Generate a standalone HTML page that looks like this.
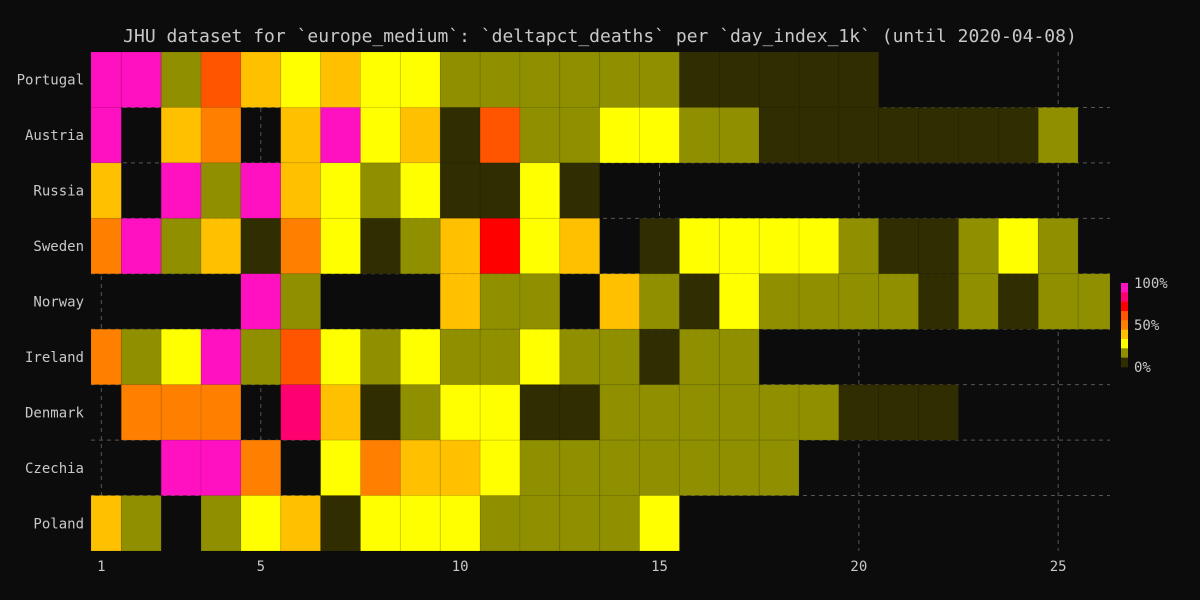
<!DOCTYPE html>
<html><head><meta charset="utf-8"><style>
html,body{margin:0;padding:0;background:#0c0c0c;overflow:hidden;width:1200px;height:600px;}
svg{display:block;}
svg text{font-family:"DejaVu Sans Mono","Liberation Mono",monospace;fill:#c8c8c8;}
</style></head><body>
<svg id="chart" width="1200" height="600" xmlns="http://www.w3.org/2000/svg">
<rect width="1200" height="600" fill="#0c0c0c"/>
<text x="600" y="42" text-anchor="middle" font-size="18">JHU dataset for `europe_medium`: `deltapct_deaths` per `day_index_1k` (until 2020-04-08)</text>
<g id="grid"></g>
<g id="cells"></g>
<g id="axes"></g>
<g id="cbar"></g>
</svg>
<script>
const countries = ["Portugal","Austria","Russia","Sweden","Norway","Ireland","Denmark","Czechia","Poland"];
const xTicks = [1,5,10,15,20,25];
const cbTicks = ["100%","50%","0%"];
// values in % (null = no data); columns are day 1..26
const rowPortugal = [100,100,20,65,45,35,45,35,35,20,20,20,20,20,20,5,5,5,5,5,null,null,null,null,null,null];
const rowAustria  = [100,null,45,55,null,45,100,35,45,5,65,20,20,35,35,20,20,5,5,5,5,5,5,5,20,null];
const rowRussia   = [45,null,100,20,100,45,35,20,35,5,5,35,5,null,null,null,null,null,null,null,null,null,null,null,null,null];
const rowSweden   = [55,100,20,45,5,55,35,5,20,45,75,35,45,null,5,35,35,35,35,20,5,5,20,35,20,null];
const rowNorway   = [null,null,null,null,100,20,null,null,null,45,20,20,null,45,20,5,35,20,20,20,20,5,20,5,20,20];
const rowIreland  = [55,20,35,100,20,65,35,20,35,20,20,35,20,20,5,20,20,null,null,null,null,null,null,null,null,null];
const rowDenmark  = [null,55,55,55,null,85,45,5,20,35,35,5,5,20,20,20,20,20,20,5,5,5,null,null,null,null];
const rowCzechia  = [null,null,100,100,55,null,35,55,45,45,35,20,20,20,20,20,20,20,null,null,null,null,null,null,null,null];
const rowPoland   = [45,20,null,20,35,45,5,35,35,35,20,20,20,20,35,null,null,null,null,null,null,null,null,null,null,null];
const rows = [rowPortugal,rowAustria,rowRussia,rowSweden,rowNorway,rowIreland,rowDenmark,rowCzechia,rowPoland];

const NS="http://www.w3.org/2000/svg";
const L=91,R=1110,T=52,B=551;
const xMin=0.74,xMax=26.3;
function xs(v){return L+(v-xMin)/(xMax-xMin)*(R-L);}
const rowH=(B-T)/countries.length;
function ys(i){return T+i*rowH;}
function color(v){
  if(v<=10) return "#302d00";
  if(v<=27) return "#8f8f00";
  if(v<=40) return "#ffff00";
  if(v<=50) return "#ffc000";
  if(v<=60) return "#ff8000";
  if(v<=70) return "#ff5500";
  if(v<=80) return "#ff0000";
  if(v<=90) return "#ff0070";
  return "#ff10c0";
}
function mk(tag,attrs,parent){const e=document.createElementNS(NS,tag);for(const k in attrs)e.setAttribute(k,attrs[k]);parent.appendChild(e);return e;}
const grid=document.getElementById('grid');
xTicks.forEach(t=>{
  const l=mk('line',{x1:xs(t),x2:xs(t),y1:T,y2:B,stroke:'#555','stroke-dasharray':'4,4'},grid);
  
  
});
for(let i=1;i<countries.length;i++){
  const l=mk('line',{x1:L,x2:R,y1:ys(i),y2:ys(i),stroke:'#555','stroke-dasharray':'4,4'},grid);
  
  
}
const cells=document.getElementById('cells');
rows.forEach((row,i)=>{
  row.forEach((v,j)=>{
    if(v===null) return;
    const d=j+1;
    const x0=Math.max(L,xs(d-0.5)), x1=Math.min(R,xs(d+0.5));
    const r=mk('rect',{x:x0,y:ys(i),width:x1-x0,height:rowH,fill:color(v),stroke:'rgba(0,0,0,0.08)','stroke-width':1},cells);
    
    
  });
});
const axes=document.getElementById('axes');
xTicks.forEach(t=>{
  const tx=mk('text',{x:xs(t),y:571,'text-anchor':'middle','font-size':14},axes);
  tx.textContent=t;
  
  
});
countries.forEach((c,i)=>{
  const tx=mk('text',{x:84,y:ys(i)+rowH/2+5,'text-anchor':'end','font-size':14},axes);
  tx.textContent=c;
  
  
});
const cb=document.getElementById('cbar');
const cbCols=["#ff10c0","#ff0070","#ff0000","#ff5500","#ff8000","#ffc000","#ffff00","#8f8f00","#302d00"];
const cbTop=283,cbBot=367;
cbCols.forEach((c,i)=>{
  const h=(cbBot-cbTop)/cbCols.length;
  const r=mk('rect',{x:1121,y:cbTop+i*h,width:7,height:h+0.3,fill:c},cb);
  
  
});
cbTicks.forEach((t,i)=>{
  const y=cbTop+i*(cbBot-cbTop)/2;
  const tx=mk('text',{x:1134,y:y+5,'font-size':14},cb);
  tx.textContent=t;
  
  
});
</script>
</body></html>
